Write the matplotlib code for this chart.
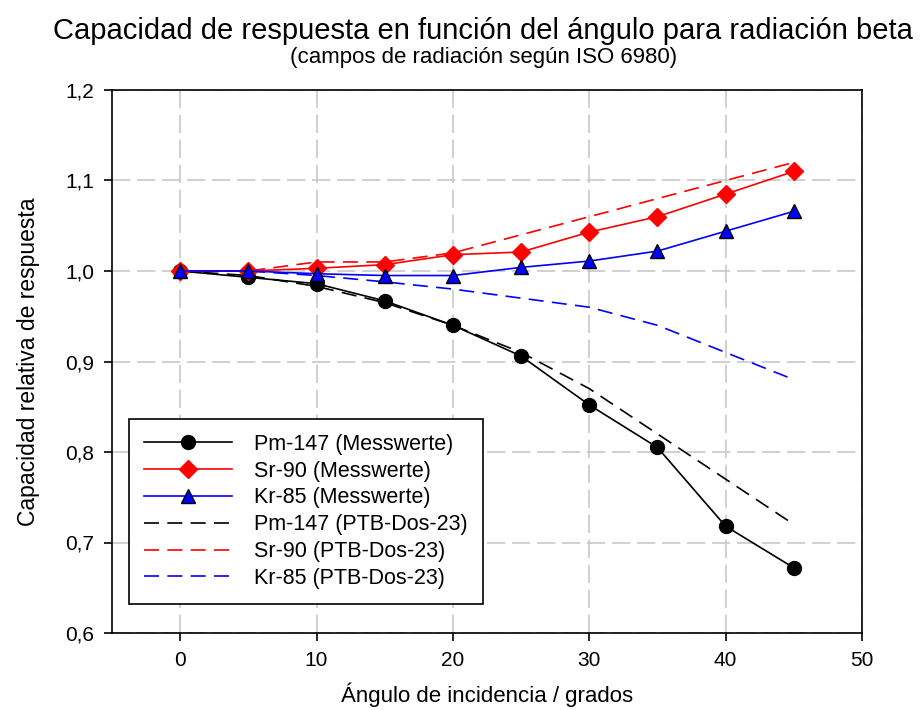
import matplotlib.pyplot as plt
from matplotlib.ticker import FuncFormatter

plt.rcParams['font.family'] = ['Liberation Sans', 'DejaVu Sans']

# Data
angles = [0, 5, 10, 15, 20, 25, 30, 35, 40, 45]

pm147_meas = [1.000, 0.993, 0.986, 0.967, 0.940, 0.906, 0.852, 0.805, 0.718, 0.672]
sr90_meas = [1.000, 1.000, 1.003, 1.007, 1.018, 1.021, 1.043, 1.060, 1.085, 1.110]
kr85_meas = [1.000, 1.000, 0.997, 0.995, 0.995, 1.004, 1.011, 1.022, 1.044, 1.066]

pm147_ptb = [1.000, 0.995, 0.983, 0.965, 0.940, 0.910, 0.870, 0.820, 0.770, 0.720]
sr90_ptb = [1.000, 1.000, 1.010, 1.010, 1.020, 1.040, 1.060, 1.080, 1.100, 1.120]
kr85_ptb = [1.000, 1.000, 0.995, 0.988, 0.980, 0.970, 0.960, 0.940, 0.910, 0.880]

xticks = [0, 10, 20, 30, 40, 50]
yticks = [0.6, 0.7, 0.8, 0.9, 1.0, 1.1, 1.2]

fig = plt.figure(figsize=(9.22, 7.1), dpi=100)
ax = fig.add_axes([112 / 922, 1 - 633 / 710, 750 / 922, 543 / 710])

# grid
ax.grid(True, color='#c8c8c8', linestyle=(0, (11, 4)), linewidth=1.2)
ax.set_axisbelow(True)

dash = (0, (9, 5))
ax.plot(angles, pm147_meas, '-', color='black', lw=1.2, marker='o', ms=10,
        mfc='black', mec='black', label='Pm-147 (Messwerte)', zorder=4)
ax.plot(angles, sr90_meas, '-', color='red', lw=1.2, marker='D', ms=9,
        mfc='red', mec='red', label='Sr-90 (Messwerte)', zorder=4)
ax.plot(angles, kr85_meas, '-', color='blue', lw=1.2, marker='^', ms=10,
        mfc='blue', mec='black', mew=1.0, label='Kr-85 (Messwerte)', zorder=4)
ax.plot(angles, pm147_ptb, color='black', lw=1.2, linestyle=dash,
        label='Pm-147 (PTB-Dos-23)', zorder=3)
ax.plot(angles, sr90_ptb, color='red', lw=1.2, linestyle=dash,
        label='Sr-90 (PTB-Dos-23)', zorder=3)
ax.plot(angles, kr85_ptb, color='blue', lw=1.2, linestyle=dash,
        label='Kr-85 (PTB-Dos-23)', zorder=3)

ax.set_xlim(-5, 50)
ax.set_ylim(0.6, 1.2)
ax.set_xticks(xticks)
ax.set_yticks(yticks)
ax.yaxis.set_major_formatter(FuncFormatter(lambda v, p: f'{v:.1f}'.replace('.', ',')))
ax.tick_params(direction='out', length=6, width=1.2, labelsize=15, pad=7)
for s in ax.spines.values():
    s.set_linewidth(1.2)

ax.set_xlabel('Ángulo de incidencia / grados', fontsize=16, labelpad=9)
ax.set_ylabel('Capacidad relativa de respuesta', fontsize=16.5, labelpad=18)

leg = ax.legend(loc='lower left', bbox_to_anchor=(17 / 750, 29 / 543), fontsize=15.5,
                frameon=True, fancybox=False, edgecolor='black', framealpha=1,
                handlelength=4.1, handletextpad=1.0, borderpad=0.7, labelspacing=0.27,
                borderaxespad=0)
leg.get_frame().set_linewidth(1.2)

fig.text(0.524, 1 - 31 / 710, 'Capacidad de respuesta en función del ángulo para radiación beta',
         ha='center', va='center', fontsize=21)
fig.text(0.524, 1 - 58 / 710, '(campos de radiación según ISO 6980)',
         ha='center', va='center', fontsize=16)

fig.savefig('out.png', dpi=100)
